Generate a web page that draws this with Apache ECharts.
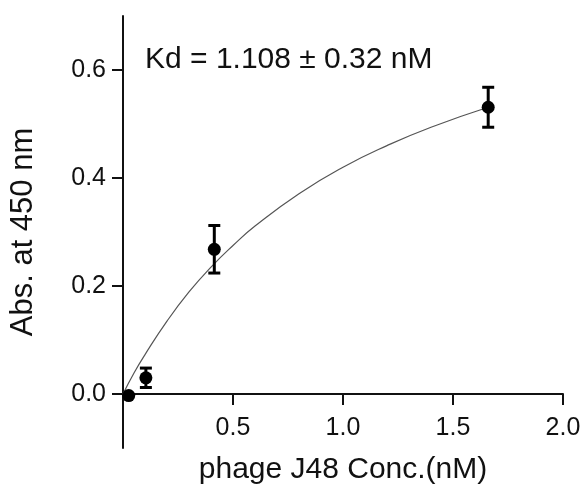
<!DOCTYPE html>
<html>
<head>
<meta charset="utf-8">
<script src="https://cdn.jsdelivr.net/npm/echarts@6/dist/echarts.min.js"></script>
<style>html,body{margin:0;padding:0;background:#fff;}#c{width:584px;height:485px;}</style>
</head>
<body>
<div id="c"></div>
<script>
// Measured points (phage J48 concentration, nM) and absorbance
const conc = [0.026, 0.104, 0.415, 1.66];
const absVals = [-0.003, 0.03, 0.268, 0.531];
const absErr = [0.0, 0.018, 0.044, 0.037];
// Fitted curve
const fitX = [0, 0.05, 0.1, 0.2, 0.3, 0.4, 0.5, 0.6, 0.8, 1.0, 1.2, 1.4, 1.66];
const fitY = [0, 0.039, 0.073, 0.135, 0.189, 0.235, 0.275, 0.311, 0.371, 0.420, 0.460, 0.494, 0.531];
const xTicks = [0.5, 1.0, 1.5, 2.0];
const yTicks = [0.0, 0.2, 0.4, 0.6];
const annotation = 'Kd = 1.108 ± 0.32 nM';
const xTitle = 'phage J48 Conc.(nM)';
const yTitle = 'Abs. at 450 nm';

const FONT = 'Liberation Sans, Arial, sans-serif';
const chart = echarts.init(document.getElementById('c'), null, {renderer: 'canvas'});

const pts = conc.map((x, i) => [x, absVals[i]]);
const errData = conc.map((x, i) => [x, absVals[i] - absErr[i], absVals[i] + absErr[i]]);
const fitData = fitX.map((x, i) => [x, fitY[i]]);

const yMin = -0.1, yMax = 0.7;
const gridTop = 16, gridBottom = 37, H = 485;
// shift the x axis up so it sits at y = 0
const xAxisOffset = -((0 - yMin) / (yMax - yMin)) * (H - gridTop - gridBottom);

chart.setOption({
  animation: false,
  backgroundColor: '#fff',
  grid: {left: 123, right: 21, top: gridTop, bottom: gridBottom, containLabel: false, outerBoundsMode: 'none'},
  graphic: [{
    type: 'text', left: 145, top: 45,
    style: {text: annotation, font: '30px ' + FONT, fill: '#111'}
  }],
  xAxis: {
    type: 'value', min: 0, max: 2, offset: xAxisOffset,
    axisLine: {onZero: false, lineStyle: {color: '#111', width: 2}},
    axisTick: {show: true, inside: false, length: 11, customValues: xTicks, lineStyle: {color: '#111', width: 2}},
    axisLabel: {customValues: xTicks, margin: 22, color: '#111', fontSize: 25, fontFamily: FONT,
      formatter: v => v.toFixed(1)},
    splitLine: {show: false},
    name: xTitle, nameLocation: 'middle', nameGap: 61,
    nameTextStyle: {color: '#111', fontSize: 30, fontFamily: FONT}
  },
  yAxis: {
    type: 'value', min: yMin, max: yMax,
    axisLine: {show: true, onZero: false, lineStyle: {color: '#111', width: 2}},
    axisTick: {show: true, length: 11, customValues: yTicks, lineStyle: {color: '#111', width: 2}},
    axisLabel: {customValues: yTicks, margin: 17, color: '#111', fontSize: 25, fontFamily: FONT,
      formatter: v => v.toFixed(1)},
    splitLine: {show: false},
    name: yTitle, nameLocation: 'middle', nameGap: 84,
    nameTextStyle: {color: '#111', fontSize: 31, fontFamily: FONT}
  },
  series: [
    {
      type: 'line', data: fitData, smooth: true, showSymbol: false,
      lineStyle: {color: '#555', width: 1.2}, z: 2
    },
    {
      type: 'custom', z: 3,
      renderItem: function (params, api) {
        const x = api.value(0);
        const lo = api.coord([x, api.value(1)]);
        const hi = api.coord([x, api.value(2)]);
        if (Math.abs(hi[1] - lo[1]) < 1) return null;
        const w = 6;
        const st = {stroke: '#000', lineWidth: 3};
        return {type: 'group', children: [
          {type: 'line', shape: {x1: lo[0], y1: lo[1], x2: hi[0], y2: hi[1]}, style: st},
          {type: 'line', shape: {x1: lo[0] - w, y1: lo[1], x2: lo[0] + w, y2: lo[1]}, style: st},
          {type: 'line', shape: {x1: hi[0] - w, y1: hi[1], x2: hi[0] + w, y2: hi[1]}, style: st}
        ]};
      },
      data: errData
    },
    {
      type: 'scatter', data: pts, symbol: 'circle', symbolSize: 13,
      itemStyle: {color: '#000', opacity: 1}, z: 4
    }
  ]
});
</script>
</body>
</html>
